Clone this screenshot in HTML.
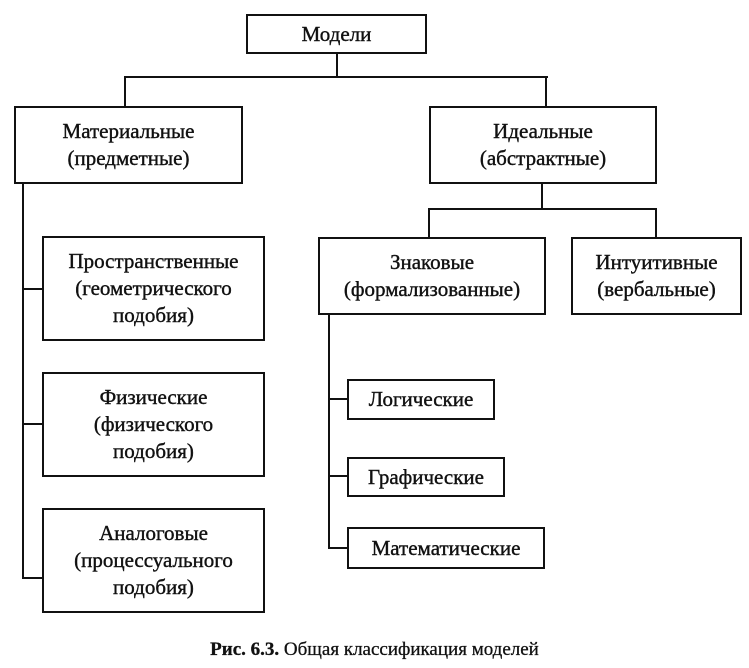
<!DOCTYPE html>
<html><head><meta charset="utf-8"><style>
body{margin:0;width:749px;height:668px;background:#fff;position:relative;overflow:hidden;font-family:"Liberation Serif","Noto Serif CJK SC",serif;color:#111}
.b{position:absolute;border:2px solid #111;box-sizing:border-box;display:flex;align-items:center;justify-content:center;text-align:center;font-size:21px;line-height:27px;letter-spacing:0;-webkit-text-stroke:0.4px #111}
.l{position:absolute;background:#111}
.cap{position:absolute;left:0;width:749px;top:639px;text-align:center;font-size:19px;-webkit-text-stroke:0.3px #111}
</style></head><body>
<div class="b" style="left:246px;top:14px;width:181px;height:40px">Модели</div>
<div class="l" style="left:336px;top:54px;width:2px;height:24px"></div>
<div class="l" style="left:124px;top:76px;width:424px;height:2px"></div>
<div class="l" style="left:124px;top:76px;width:2px;height:30px"></div>
<div class="l" style="left:545px;top:76px;width:2px;height:30px"></div>
<div class="b" style="left:14px;top:106px;width:229px;height:78px">Материальные<br>(предметные)</div>
<div class="b" style="left:429px;top:106px;width:228px;height:78px">Идеальные<br>(абстрактные)</div>
<div class="l" style="left:541px;top:184px;width:2px;height:26px"></div>
<div class="l" style="left:428px;top:208px;width:229px;height:2px"></div>
<div class="l" style="left:428px;top:208px;width:2px;height:29px"></div>
<div class="l" style="left:655px;top:208px;width:2px;height:29px"></div>
<div class="b" style="left:318px;top:237px;width:228px;height:78px">Знаковые<br>(формализованные)</div>
<div class="b" style="left:571px;top:237px;width:171px;height:78px">Интуитивные<br>(вербальные)</div>
<div class="l" style="left:22px;top:184px;width:2px;height:395px"></div>
<div class="l" style="left:22px;top:288px;width:20px;height:2px"></div>
<div class="l" style="left:22px;top:423px;width:20px;height:2px"></div>
<div class="l" style="left:22px;top:577px;width:20px;height:2px"></div>
<div class="b" style="left:42px;top:236px;width:223px;height:105px">Пространственные<br>(геометрического<br>подобия)</div>
<div class="b" style="left:42px;top:372px;width:223px;height:105px">Физические<br>(физического<br>подобия)</div>
<div class="b" style="left:42px;top:508px;width:223px;height:105px">Аналоговые<br>(процессуального<br>подобия)</div>
<div class="l" style="left:328px;top:315px;width:2px;height:234px"></div>
<div class="l" style="left:328px;top:398px;width:19px;height:2px"></div>
<div class="l" style="left:328px;top:475px;width:19px;height:2px"></div>
<div class="l" style="left:328px;top:547px;width:19px;height:2px"></div>
<div class="b" style="left:347px;top:379px;width:148px;height:41px">Логические</div>
<div class="b" style="left:347px;top:457px;width:158px;height:40px">Графические</div>
<div class="b" style="left:347px;top:527px;width:198px;height:42px">Математические</div>
<div class="cap"><b>Рис. 6.3.</b> Общая классификация моделей</div>
</body></html>
